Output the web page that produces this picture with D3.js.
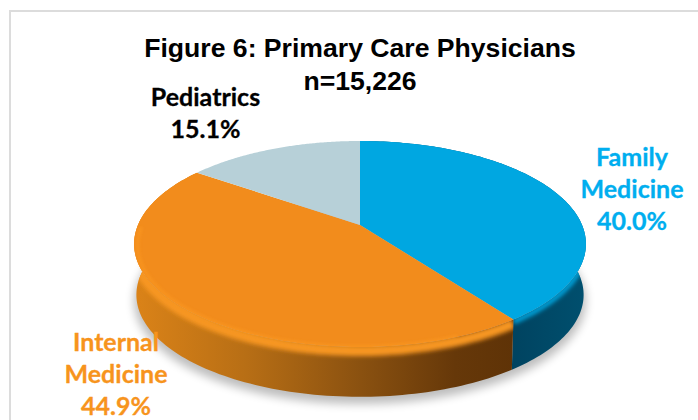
<!DOCTYPE html>
<html><head><meta charset="utf-8">
<script src="https://cdn.jsdelivr.net/npm/d3@7"></script>
<style>html,body{margin:0;padding:0;background:#fff}svg{display:block}</style>
</head><body><svg id="c" width="698" height="420"></svg>
<script>
const categories = ["Family Medicine", "Internal Medicine", "Pediatrics"];
const values = [40.0, 44.9, 15.1];
const colors = ["#00A7E1", "#F28C1C", "#B7D0D8"];
const titleLines = ["Figure 6: Primary Care Physicians", "n=15,226"];

const svg = d3.select("#c");
const defs = svg.append("defs");
const blur = (id, s) => defs.append("filter").attr("id", id)
  .attr("x", "-20%").attr("y", "-20%").attr("width", "140%").attr("height", "140%")
  .append("feGaussianBlur").attr("stdDeviation", s);
blur("b5", 5); blur("b2", 2.2); blur("b1", 1.5);

// frame (open on the right and the bottom, as in the crop)
svg.append("rect").attr("x", 10).attr("y", 11).attr("width", 720).attr("height", 440)
  .attr("fill", "#fff").attr("stroke", "#DCDCDC").attr("stroke-width", 2);

// perspective projection of a unit disc
const cx = 360, cy = 225, ax = 222, ay = 99.5, k = -0.1845, depth = 51, shrink = 0.99;
const proj = (t, r = 1, dz = 0, s = 1) => {
  const u = r * Math.sin(t), v = -r * Math.cos(t), w = 1 + k * v;
  return [cx + s * ax * u / w, cy + dz + s * ay * v / w];
};
const line = d3.line();
const arcPts = (a0, a1, f) => d3.range(0, 121).map(i => f(a0 + (a1 - a0) * i / 120));

const slices = d3.pie().sort(null).value(d => d)(values);

// shadow
const whole = arcPts(0, 2 * Math.PI, t => proj(t, 1, 57, 1.0));
svg.append("path").attr("d", line(whole) + "Z").attr("fill", "#000").attr("opacity", .26)
  .attr("filter", "url(#b5)");

// wall gradients
const wallStops = [
  [["0%", "#DB8318"], ["30%", "#B76E15"], ["60%", "#8A5110"], ["85%", "#663809"], ["100%", "#5F3307"]],
  [["0%", "#00425F"], ["100%", "#00506F"]]
];
const wallIdx = [1, 0, null];
wallStops.forEach((st, i) => {
  const g = defs.append("linearGradient").attr("id", "wall" + i).attr("gradientUnits", "userSpaceOnUse")
    .attr("x1", i ? 505 : 134).attr("x2", i ? 590 : 512).attr("y1", 0).attr("y2", 0);
  st.forEach(s => g.append("stop").attr("offset", s[0]).attr("stop-color", s[1]));
});

// walls, and a clip that keeps each soft lip on its own wall
slices.forEach((d, i) => {
  if (wallIdx[i] === null) return;
  const top = arcPts(d.startAngle, d.endAngle, t => proj(t));
  const bot = arcPts(d.endAngle, d.startAngle, t => proj(t, 1, depth, shrink));
  const p = line(top.concat(bot)) + "Z";
  svg.append("path").attr("d", p).attr("fill", `url(#wall${wallIdx[i]})`);
  defs.append("clipPath").attr("id", "clip" + i).append("path").attr("d", p);
});

// bevel lips
const lipColors = ["#00A7E1", "#F79620"];
slices.forEach((d, i) => {
  if (wallIdx[i] === null) return;
  const pts = arcPts(d.startAngle, d.endAngle, t => proj(t, 1, i ? 4 : 2));
  svg.append("g").attr("clip-path", `url(#clip${i})`).append("path").attr("d", line(pts)).attr("fill", "none")
    .attr("stroke", lipColors[i]).attr("stroke-width", i ? 10 : 5).attr("filter", "url(#b2)");
});

// top faces
slices.forEach((d, i) => {
  const pts = [[cx, cy]].concat(arcPts(d.startAngle, d.endAngle, t => proj(t)));
  svg.append("path").attr("d", line(pts) + "Z").attr("fill", colors[i]);
  if (i === 1) {
    // soft highlight on the front rim of the orange face only
    const rim = arcPts(d.startAngle + 0.25, 1.5 * Math.PI, t => proj(t, 0.985, 2));
    svg.append("path").attr("d", line(rim)).attr("fill", "none").attr("stroke", "#FF9E24")
      .attr("stroke-width", 3).attr("opacity", .5).attr("filter", "url(#b1)");
  }
});

// title
const title = svg.append("g").attr("font-family", "'Liberation Sans', Arial, sans-serif")
  .attr("font-weight", 700).attr("font-size", 26.6).attr("fill", "#000").attr("text-anchor", "middle");
titleLines.forEach((t, i) => title.append("text").attr("x", 360).attr("y", 57 + i * 33).text(t));

// labels
const labelLines = [["Family", "Medicine", values[0].toFixed(1) + "%"],
                    ["Internal", "Medicine", values[1].toFixed(1) + "%"],
                    ["Pediatrics", values[2].toFixed(1) + "%"]];
const labelPos = [[632, 166], [116, 351], [205.5, 106]];
const labelFill = ["#00AEEF", "#F7941D", "#000"];
labelLines.forEach((ls, i) => {
  const g = svg.append("g").attr("font-family", "Lato, sans-serif").attr("font-weight", 700)
    .attr("font-size", 25).attr("fill", labelFill[i]).attr("text-anchor", "middle")
    .attr("stroke", labelFill[i]).attr("stroke-width", .3);
  ls.forEach((t, j) => g.append("text").attr("x", labelPos[i][0]).attr("y", labelPos[i][1] + j * 32).text(t));
});
</script></body></html>
